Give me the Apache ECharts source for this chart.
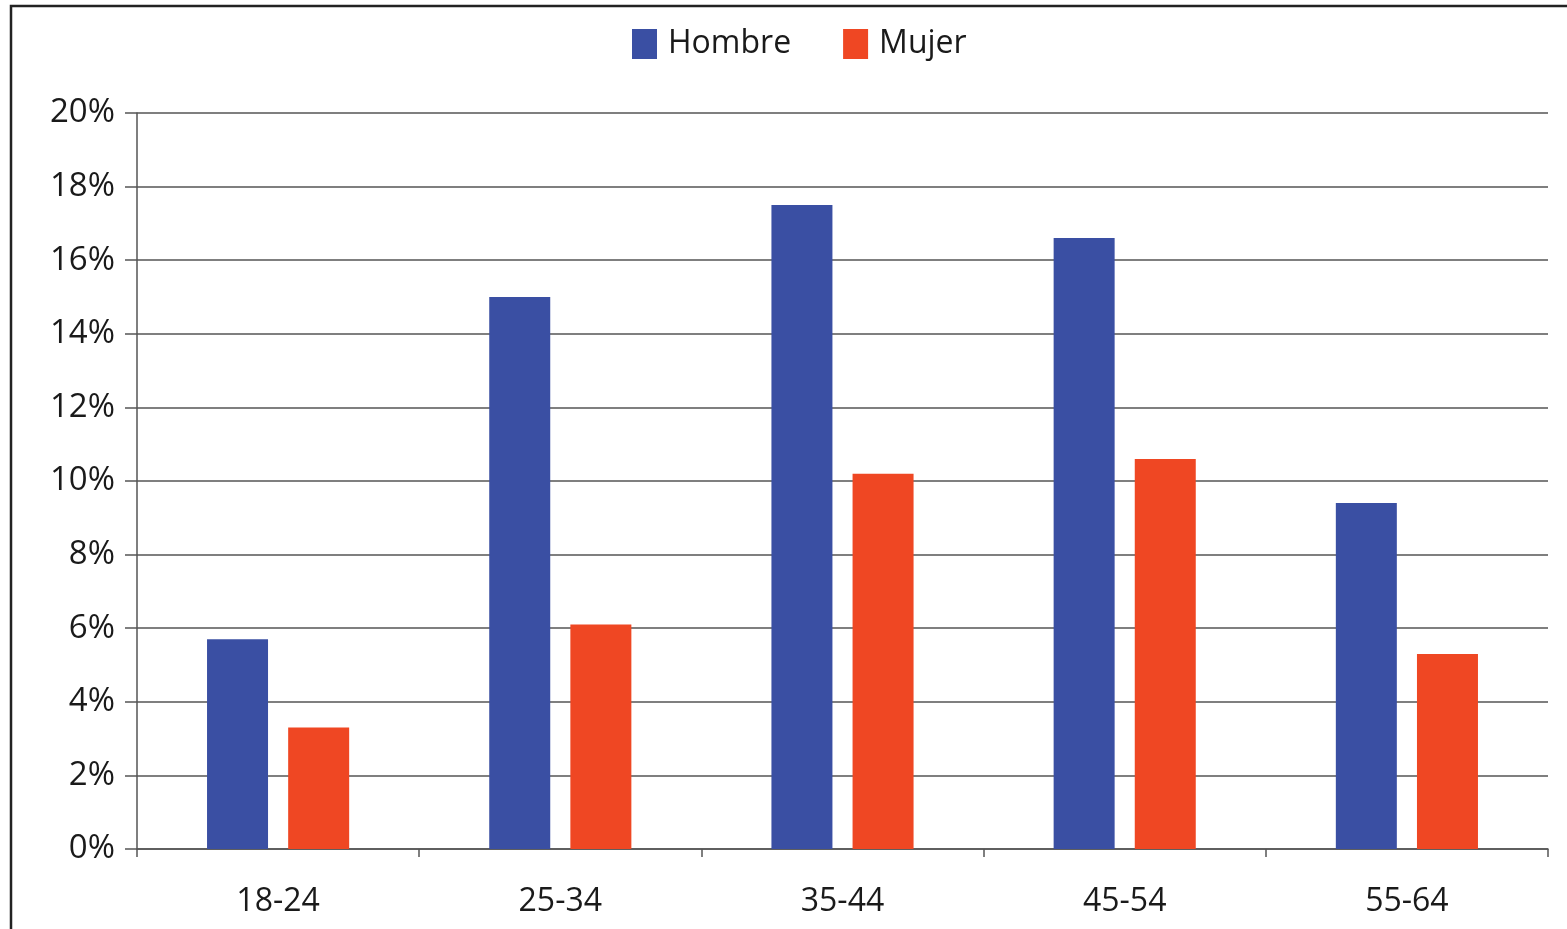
<!DOCTYPE html>
<html>
<head>
<meta charset="utf-8">
<script src="https://cdn.jsdelivr.net/npm/echarts@6/dist/echarts.min.js"></script>
<style>
html,body{margin:0;padding:0;background:#fff;}
#c{width:1567px;height:929px;}
</style>
</head>
<body>
<div id="c"></div>
<script>
var categories = ['18-24', '25-34', '35-44', '45-54', '55-64'];
var hombre = [5.7, 15.0, 17.5, 16.6, 9.4];
var mujer = [3.3, 6.1, 10.2, 10.6, 5.3];
var seriesNames = ['Hombre', 'Mujer'];

var chart = echarts.init(document.getElementById('c'));
var font = '"Open Sans", sans-serif';
chart.setOption({
  backgroundColor: '#fff',
  animation: false,
  graphic: [{
    type: 'rect',
    shape: {x: 11, y: 6, width: 1600, height: 1000},
    style: {fill: 'none', stroke: '#222', lineWidth: 2.5},
    silent: true
  }],
  legend: {
    left: 632, top: 28, padding: 0,
    itemWidth: 25, itemHeight: 30, itemGap: 52,
    icon: 'rect',
    data: seriesNames,
    textStyle: {fontFamily: font, fontSize: 32, color: '#1a1a1a', padding: [0, 0, 0, 6]}
  },
  grid: {left: 137, right: 19, top: 113, bottom: 80, containLabel: false},
  xAxis: {
    type: 'category',
    data: categories,
    axisLine: {lineStyle: {color: '#555', width: 1.5}},
    axisTick: {show: true, length: 8, lineStyle: {color: '#555', width: 1.5}},
    axisLabel: {fontFamily: font, fontSize: 32, color: '#1a1a1a', margin: 37}
  },
  yAxis: {
    type: 'value',
    min: 0, max: 20, interval: 2,
    axisLine: {show: true, lineStyle: {color: '#555', width: 1.5}},
    axisTick: {show: true, length: 12, lineStyle: {color: '#555', width: 1.5}},
    splitLine: {lineStyle: {color: '#555', width: 1.5}},
    axisLabel: {fontFamily: font, fontSize: 33, color: '#1a1a1a', margin: 22,
      formatter: function (v) { return v + '%'; }}
  },
  series: [{
    name: seriesNames[0], type: 'bar', data: hombre,
    barWidth: 61, barGap: '33%',
    itemStyle: {color: '#3a4fa3'}
  }, {
    name: seriesNames[1], type: 'bar', data: mujer,
    barWidth: 61, barGap: '33%',
    itemStyle: {color: '#ef4723'}
  }]
});
</script>
</body>
</html>
